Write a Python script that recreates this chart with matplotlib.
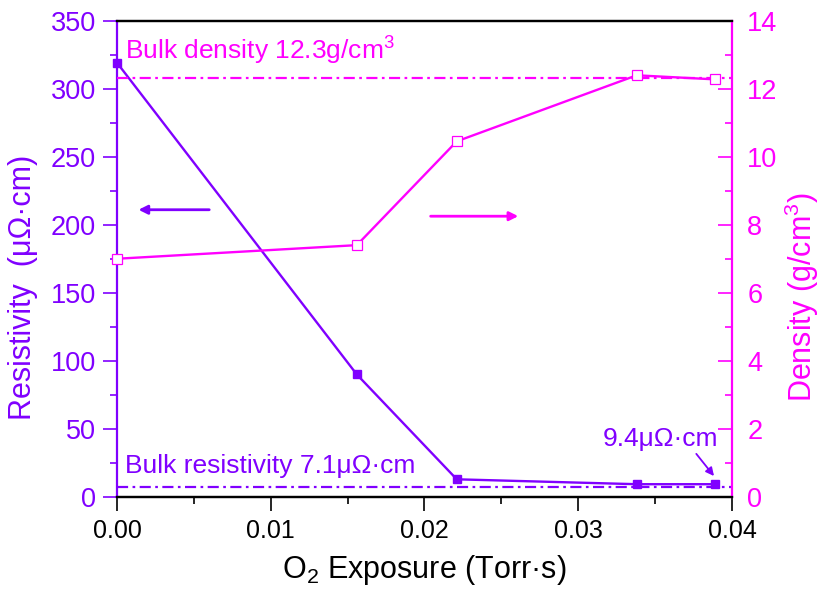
import matplotlib
matplotlib.use('Agg')
import matplotlib.pyplot as plt
from matplotlib.ticker import MultipleLocator

# O2 exposure (Torr*s) and measured film properties
exposure = [0.0, 0.0156, 0.0221, 0.0338, 0.0389]
resistivity = [319, 90, 13, 9.4, 9.4]      # uOhm*cm
density = [7.0, 7.4, 10.45, 12.39, 12.27]  # g/cm3

bulk_resistivity = 7.1
bulk_density = 12.3

purple = '#8000ff'
magenta = '#ff00ff'
sans = ['Liberation Sans', 'DejaVu Sans']
plt.rcParams['font.family'] = sans
plt.rcParams['mathtext.fontset'] = 'custom'
plt.rcParams['mathtext.rm'] = 'Liberation Sans'
plt.rcParams['mathtext.it'] = 'Liberation Sans:italic'

fig = plt.figure(figsize=(8.22, 5.96), dpi=100)
ax = fig.add_axes([0.1423, 0.1661, 0.7482, 0.7995])
ax2 = ax.twinx()

dd = (0, (5, 2, 1.2, 2))
ax.plot([0, 0.04], [bulk_resistivity] * 2, color=purple, lw=1.6, ls=dd)
ax2.plot([0, 0.04], [bulk_density] * 2, color=magenta, lw=1.6, ls=dd)

ax.plot(exposure, resistivity, color=purple, lw=1.7, marker='s', ms=6,
        mfc=purple, mec=purple, clip_on=False, zorder=3)
ax2.plot(exposure, density, color=magenta, lw=1.7, marker='s', ms=7,
         mfc='white', mec=magenta, mew=0.9, clip_on=False, zorder=3)

ax.set_xlim(0, 0.04)
ax.set_ylim(0, 350)
ax2.set_ylim(0, 14)

ax.xaxis.set_minor_locator(MultipleLocator(0.005))
ax.yaxis.set_major_locator(MultipleLocator(50))
ax.yaxis.set_minor_locator(MultipleLocator(25))
ax2.yaxis.set_major_locator(MultipleLocator(2))
ax2.yaxis.set_minor_locator(MultipleLocator(1))
ax.set_xticks([0, 0.01, 0.02, 0.03, 0.04])
ax.set_xticklabels(['0.00', '0.01', '0.02', '0.03', '0.04'])

ax.tick_params(axis='x', which='both', direction='out', width=1.2,
               labelsize=18, pad=6)
ax.tick_params(axis='x', which='major', length=10)
ax.tick_params(axis='x', which='minor', length=5)
ax2.tick_params(axis='x', which='both', top=True, bottom=False,
                direction='in', width=1.2, labeltop=False, labelbottom=False)
ax2.tick_params(axis='x', which='major', length=10)
ax2.tick_params(axis='x', which='minor', length=5)

ax.tick_params(axis='y', which='both', direction='out', color=purple,
               labelcolor=purple, width=1.2, labelsize=19.5, pad=5)
ax.tick_params(axis='y', which='major', length=10)
ax.tick_params(axis='y', which='minor', length=5)
ax2.tick_params(axis='y', which='both', direction='in', color=magenta,
                labelcolor=magenta, width=1.2, labelsize=19.5, pad=11)
ax2.tick_params(axis='y', which='major', length=10)
ax2.tick_params(axis='y', which='minor', length=5)

for a in (ax, ax2):
    for s in a.spines.values():
        s.set_linewidth(1.6)
ax.spines['left'].set_color(purple)
ax2.spines['right'].set_color(magenta)
ax2.spines['left'].set_visible(False)
ax.spines['right'].set_visible(False)

ax.set_ylabel('Resistivity  (\u03bc\u03a9\u00b7cm)', color=purple, fontsize=22)
ax.yaxis.set_label_coords(-0.128, 0.44)
ax2.set_ylabel('Density (g/cm$^3$)', color=magenta, fontsize=22,
               rotation=90)
ax2.yaxis.set_label_coords(1.082, 0.42)
ax.set_xlabel('O$_2$ Exposure (Torr\u00b7s)', fontsize=22, labelpad=7)

ax2.text(0.0005, 12.86, 'Bulk density 12.3g/cm$^3$', color=magenta,
         fontsize=19, va='baseline')
ax.text(0.0005, 17.6, 'Bulk resistivity 7.1\u03bc\u03a9\u00b7cm', color=purple,
        fontsize=19, va='baseline')
ax.annotate('9.4\u03bc\u03a9\u00b7cm', xy=(0.03883, 15.4), xytext=(0.0316, 37.4),
            color=purple, fontsize=19, va='baseline',
            arrowprops=dict(arrowstyle='-|>', color=purple, lw=1.3,
                            mutation_scale=12, shrinkA=0, shrinkB=0,
                            relpos=(0.79, 0.0)))

# arrows pointing each curve to its axis
ax.annotate('', xy=(0.0014, 211), xytext=(0.006, 211),
            arrowprops=dict(arrowstyle='-|>', color=purple, lw=2,
                            mutation_scale=13, shrinkA=0, shrinkB=0))
ax2.annotate('', xy=(0.0261, 8.25), xytext=(0.0204, 8.25),
             arrowprops=dict(arrowstyle='-|>', color=magenta, lw=2,
                             mutation_scale=13, shrinkA=0, shrinkB=0))

fig.savefig('out.png', dpi=100)
